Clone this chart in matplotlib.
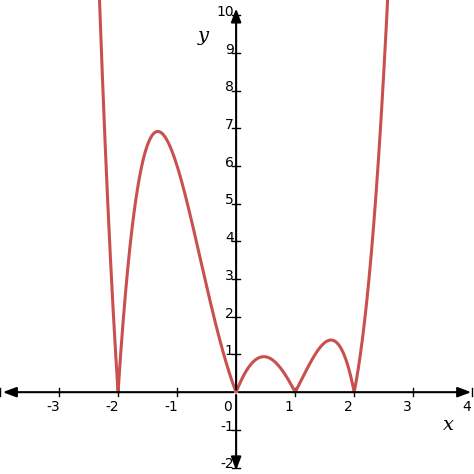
import numpy as np
import matplotlib.pyplot as plt

# roots of the plotted polynomial
roots = [-2, 0, 1, 2]
x_ticks = [-4, -3, -2, -1, 1, 2, 3, 4]
y_ticks = [-2, -1, 1, 2, 3, 4, 5, 6, 7, 8, 9, 10]

x = np.linspace(-4.2, 4.2, 3000)
y = np.abs(np.prod([x - r for r in roots], axis=0))

fig = plt.figure(figsize=(4.74, 4.74), dpi=100)
ax = fig.add_axes([0, 0, 1, 1])
ax.set_xlim(-4.0, 4.03)
ax.set_ylim(-2.17, 10.4)
ax.axis('off')

ax.plot(x, y, color='#c8504f', lw=2.2, zorder=3)

arrow = dict(arrowstyle='-|>,head_length=0.8,head_width=0.3', color='black', lw=1.5)
for end in [(-4.0, 0), (4.03, 0)]:
    ax.annotate('', xy=end, xytext=(0, 0), arrowprops=arrow)
for end in [(0, 10.25), (0, -2.15)]:
    ax.annotate('', xy=end, xytext=(0, 0), arrowprops=arrow)

for t in x_ticks:
    ax.plot([t, t], [-0.1, 0.1], color='black', lw=1)
    ax.text(t - 0.1, -0.2, str(t), ha='center', va='top', fontsize=10)
ax.text(-0.07, -0.2, '0', ha='right', va='top', fontsize=10)
for t in y_ticks:
    ax.plot([-0.07, 0.07], [t, t], color='black', lw=1)
    ax.text(-0.04, t - 0.1, str(t), ha='right', va='bottom', fontsize=10)

ax.text(3.5, -1.0, 'x', fontsize=14, style='italic', family='DejaVu Serif')
ax.text(-0.65, 9.3, 'y', fontsize=14, style='italic', family='DejaVu Serif')

fig.savefig('out.png')
